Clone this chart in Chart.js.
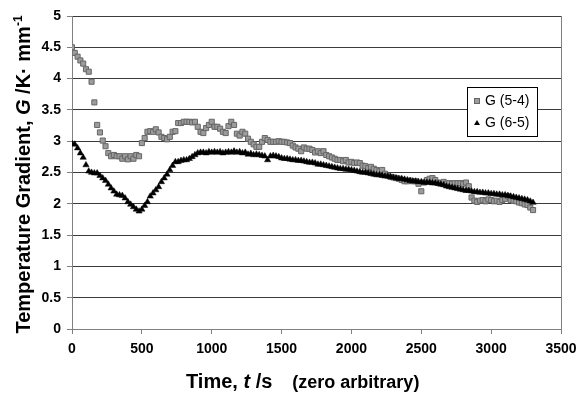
<!DOCTYPE html>
<html>
<head>
<meta charset="utf-8">
<script src="https://cdn.jsdelivr.net/npm/chart.js@4/dist/chart.umd.min.js"></script>
<style>
  body { margin: 0; background: #fff; }
  canvas { display: block; }
</style>
</head>
<body>
<canvas id="chart" width="577" height="394"></canvas>
<script>
// sample times, s
const times = [
  0, 20, 40, 60, 80, 100, 120, 140, 160, 180,
  200, 220, 240, 260, 280, 300, 320, 340, 360, 380,
  400, 420, 440, 460, 480, 500, 520, 540, 560, 580,
  600, 620, 640, 660, 680, 700, 720, 740, 760, 780,
  800, 820, 840, 860, 880, 900, 920, 940, 960, 980,
  1000, 1020, 1040, 1060, 1080, 1100, 1120, 1140, 1160, 1180,
  1200, 1220, 1240, 1260, 1280, 1300, 1320, 1340, 1360, 1380,
  1400, 1420, 1440, 1460, 1480, 1500, 1520, 1540, 1560, 1580,
  1600, 1620, 1640, 1660, 1680, 1700, 1720, 1740, 1760, 1780,
  1800, 1820, 1840, 1860, 1880, 1900, 1920, 1940, 1960, 1980,
  2000, 2020, 2040, 2060, 2080, 2100, 2120, 2140, 2160, 2180,
  2200, 2220, 2240, 2260, 2280, 2300, 2320, 2340, 2360, 2380,
  2400, 2420, 2440, 2460, 2480, 2500, 2520, 2540, 2560, 2580,
  2600, 2620, 2640, 2660, 2680, 2700, 2720, 2740, 2760, 2780,
  2800, 2820, 2840, 2860, 2880, 2900, 2920, 2940, 2960, 2980,
  3000, 3020, 3040, 3060, 3080, 3100, 3120, 3140, 3160, 3180,
  3200, 3220, 3240, 3260, 3280, 3300
];

// G (5-4), K/mm
const g54 = [
  4.50, 4.41, 4.35, 4.29, 4.24, 4.15, 4.11, 3.95, 3.62, 3.26,
  3.14, 3.01, 2.92, 2.81, 2.76, 2.78, 2.76, 2.76, 2.72, 2.76,
  2.71, 2.76, 2.72, 2.78, 2.76, 2.97, 3.05, 3.15, 3.16, 3.15,
  3.19, 3.14, 3.07, 3.05, 3.03, 3.07, 3.15, 3.16, 3.29, 3.29,
  3.31, 3.31, 3.31, 3.30, 3.31, 3.23, 3.15, 3.13, 3.21, 3.26,
  3.31, 3.23, 3.23, 3.20, 3.15, 3.13, 3.24, 3.31, 3.26, 3.12,
  3.09, 3.15, 3.12, 3.04, 2.99, 2.95, 2.91, 2.91, 2.99, 3.05,
  3.02, 2.99, 2.99, 2.99, 3.00, 2.99, 2.99, 2.98, 2.97, 2.93,
  2.90, 2.88, 2.84, 2.90, 2.88, 2.88, 2.86, 2.82, 2.84, 2.81,
  2.84, 2.78, 2.76, 2.74, 2.72, 2.70, 2.70, 2.68, 2.70, 2.66,
  2.67, 2.65, 2.66, 2.65, 2.61, 2.60, 2.57, 2.59, 2.56, 2.54,
  2.52, 2.54, 2.48, 2.45, 2.43, 2.42, 2.41, 2.40, 2.38, 2.36,
  2.36, 2.37, 2.36, 2.36, 2.32, 2.20, 2.34, 2.38, 2.40, 2.41,
  2.38, 2.34, 2.33, 2.35, 2.32, 2.33, 2.32, 2.33, 2.33, 2.33,
  2.32, 2.34, 2.28, 2.10, 2.05, 2.03, 2.05, 2.06, 2.04, 2.07,
  2.06, 2.04, 2.05, 2.03, 2.06, 2.08, 2.12, 2.06, 2.05, 2.04,
  2.02, 2.01, 1.99, 1.98, 1.94, 1.90
];

// G (6-5), K/mm
const g65 = [
  2.96, 2.95, 2.89, 2.81, 2.74, 2.62, 2.52, 2.50, 2.49, 2.49,
  2.45, 2.41, 2.37, 2.31, 2.25, 2.20, 2.15, 2.14, 2.13, 2.09,
  2.03, 1.99, 1.95, 1.91, 1.88, 1.91, 1.97, 2.03, 2.12, 2.17,
  2.22, 2.27, 2.35, 2.41, 2.47, 2.54, 2.61, 2.67, 2.67, 2.69,
  2.70, 2.70, 2.72, 2.75, 2.78, 2.81, 2.82, 2.82, 2.81, 2.83,
  2.82, 2.83, 2.82, 2.83, 2.81, 2.82, 2.83, 2.82, 2.84, 2.82,
  2.83, 2.81, 2.82, 2.79, 2.80, 2.78, 2.79, 2.78, 2.77, 2.76,
  2.70, 2.76, 2.77, 2.76, 2.75, 2.73, 2.72, 2.72, 2.71, 2.70,
  2.70, 2.69, 2.69, 2.68, 2.67, 2.66, 2.66, 2.65, 2.63, 2.63,
  2.62, 2.61, 2.60, 2.59, 2.58, 2.57, 2.56, 2.56, 2.55, 2.55,
  2.54, 2.53, 2.52, 2.51, 2.50, 2.50, 2.49, 2.48, 2.47, 2.46,
  2.46, 2.45, 2.44, 2.44, 2.43, 2.42, 2.41, 2.40, 2.40, 2.39,
  2.38, 2.37, 2.36, 2.36, 2.35, 2.35, 2.34, 2.34, 2.34, 2.33,
  2.33, 2.32, 2.31, 2.30, 2.28, 2.27, 2.26, 2.25, 2.24, 2.23,
  2.22, 2.21, 2.21, 2.20, 2.19, 2.19, 2.18, 2.18, 2.17, 2.17,
  2.16, 2.16, 2.15, 2.15, 2.14, 2.14, 2.13, 2.12, 2.11, 2.10,
  2.09, 2.08, 2.07, 2.06, 2.04, 2.02
];

const seriesNames = ["G (5-4)", "G (6-5)"];
const xTicks = [0, 500, 1000, 1500, 2000, 2500, 3000, 3500];
const yTicks = [0, 0.5, 1, 1.5, 2, 2.5, 3, 3.5, 4, 4.5, 5];

const FONT = "'Liberation Sans', Arial, sans-serif";
const SQ_FILL = "#9c9c9c", SQ_EDGE = "#666";

// draw a run of differently styled text pieces starting at x
function drawRuns(ctx, runs, x, y) {
  runs.forEach(r => {
    ctx.font = r.font;
    ctx.fillText(r.text, x, y + (r.dy || 0));
    x += ctx.measureText(r.text).width;
  });
}
function runsWidth(ctx, runs) {
  return runs.reduce((w, r) => { ctx.font = r.font; return w + ctx.measureText(r.text).width; }, 0);
}

const decorations = {
  id: "decorations",
  afterDraw(chart) {
    const { ctx, chartArea: a } = chart;
    ctx.save();

    // right plot-area border
    ctx.strokeStyle = "#808080";
    ctx.lineWidth = 1;
    ctx.beginPath();
    ctx.moveTo(Math.round(a.right) + 0.5, a.top);
    ctx.lineTo(Math.round(a.right) + 0.5, a.bottom);
    ctx.stroke();

    ctx.fillStyle = "#000";
    ctx.textBaseline = "alphabetic";
    ctx.textAlign = "left";

    // x title
    const xRuns = [
      { text: "Time, ", font: `bold 20px ${FONT}` },
      { text: "t", font: `italic bold 20px ${FONT}` },
      { text: " /s", font: `bold 20px ${FONT}` },
      { text: "    (zero arbitrary)", font: `bold 18px ${FONT}` }
    ];
    drawRuns(ctx, xRuns, 186, 388);

    // y title, rotated
    const yRuns = [
      { text: "Temperature Gradient, ", font: `bold 20px ${FONT}` },
      { text: "G", font: `italic bold 20px ${FONT}` },
      { text: " /K\u00b7 mm", font: `bold 20px ${FONT}` },
      { text: "-1", font: `bold 12px ${FONT}`, dy: -8 }
    ];
    const yw = runsWidth(ctx, yRuns);
    ctx.translate(30, (a.top + a.bottom) / 2 + 2);
    ctx.rotate(-Math.PI / 2);
    drawRuns(ctx, yRuns, -yw / 2, 0);
    ctx.setTransform(1, 0, 0, 1, 0, 0);

    // legend
    const lx = 467, ly = 87, lw = 70, lh = 49;
    ctx.fillStyle = "#fff";
    ctx.fillRect(lx, ly, lw, lh);
    ctx.strokeStyle = "#000";
    ctx.strokeRect(lx + 0.5, ly + 0.5, lw, lh);

    ctx.fillStyle = SQ_FILL;
    ctx.strokeStyle = SQ_EDGE;
    ctx.fillRect(475, 99, 4, 4);
    ctx.strokeRect(474.5, 98.5, 5, 5);

    ctx.fillStyle = "#000";
    ctx.beginPath();
    ctx.moveTo(477, 120);
    ctx.lineTo(480, 125);
    ctx.lineTo(474, 125);
    ctx.closePath();
    ctx.fill();

    ctx.font = `14px ${FONT}`;
    ctx.textBaseline = "middle";
    ctx.fillText(seriesNames[0], 485, 101);
    ctx.fillText(seriesNames[1], 485, 123);

    ctx.restore();
  }
};

new Chart(document.getElementById("chart").getContext("2d"), {
  type: "scatter",
  data: {
    datasets: [
      {
        label: seriesNames[1],
        data: times.map((t, i) => ({ x: t, y: g65[i] })),
        pointStyle: "triangle",
        pointRadius: 3.6,
        backgroundColor: "#000",
        borderColor: "#000",
        borderWidth: 0.5,
        order: 0
      },
      {
        label: seriesNames[0],
        data: times.map((t, i) => ({ x: t, y: g54[i] })),
        pointStyle: "rect",
        pointRadius: 3.6,
        backgroundColor: SQ_FILL,
        borderColor: SQ_EDGE,
        borderWidth: 1,
        order: 1
      }
    ]
  },
  options: {
    responsive: false,
    animation: false,
    devicePixelRatio: 1,
    layout: { padding: { top: 16, right: 0, left: 0, bottom: 0 } },
    plugins: { legend: { display: false }, tooltip: { enabled: false } },
    scales: {
      x: {
        type: "linear",
        min: 0, max: 3500,
        afterBuildTicks: s => { s.ticks = xTicks.map(v => ({ value: v })); },
        afterFit: s => { s.height = 65; s.paddingRight = 16; },
        grid: { drawOnChartArea: false, drawTicks: true, tickLength: 5, color: "#808080" },
        border: { color: "#808080" },
        ticks: {
          color: "#000",
          padding: 7,
          maxRotation: 0,
          font: { family: FONT, size: 14, weight: "bold" },
          callback: v => String(v)
        }
      },
      y: {
        min: 0, max: 5,
        afterBuildTicks: s => { s.ticks = yTicks.map(v => ({ value: v })); },
        afterFit: s => { s.width = 72; },
        grid: { color: "#3a3a3a", tickLength: 5, tickColor: "#808080" },
        border: { color: "#808080" },
        ticks: {
          color: "#000",
          padding: 6,
          font: { family: FONT, size: 14, weight: "bold" },
          callback: v => String(v)
        }
      }
    }
  },
  plugins: [decorations]
});
</script>
</body>
</html>
